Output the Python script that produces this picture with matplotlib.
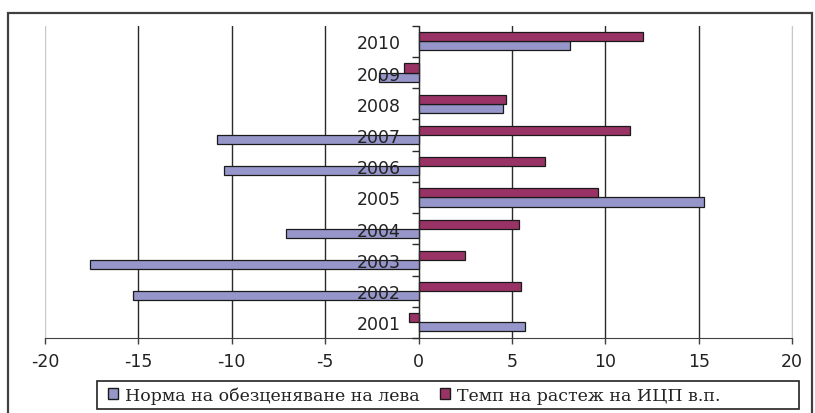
import matplotlib
matplotlib.use("Agg")
import matplotlib.pyplot as plt
from matplotlib.patches import Rectangle
import numpy as np

plt.rcParams['axes.unicode_minus'] = False

# данни по години
godini = ["2001", "2002", "2003", "2004", "2005", "2006", "2007", "2008", "2009", "2010"]
norma = [5.7, -15.3, -17.6, -7.1, 15.3, -10.4, -10.8, 4.5, -2.1, 8.1]
temp = [-0.5, 5.5, 2.5, 5.4, 9.6, 6.8, 11.3, 4.7, -0.8, 12.0]

ime_norma = "Норма на обезценяване на лева"
ime_temp = "Темп на растеж на ИЦП в.п."

fig = plt.figure(figsize=(8.15, 4.14), dpi=100)
ax = fig.add_axes([45 / 815, 1 - 339 / 414, 747 / 815, (339 - 26.7) / 414])

y = np.arange(len(godini))
h = 0.29
ax.barh(y - h / 2, norma, height=h, color="#9696CA", edgecolor="#1a1a1a", linewidth=0.9, label=ime_norma)
ax.barh(y + h / 2, temp, height=h, color="#993366", edgecolor="#1a1a1a", linewidth=0.9, label=ime_temp)

ax.set_xlim(-20, 20)
ax.set_ylim(-0.5, len(godini) - 0.5)
ax.set_xticks(np.arange(-20, 21, 5))

# вертикална мрежа зад стълбовете
ax.set_axisbelow(True)
ax.grid(axis="x", color="#2a2a2a", linewidth=1.0)
ax.grid(axis="y", visible=False)
grid = ax.get_xgridlines()
grid[0].set_color("#c8c8c8")
grid[-1].set_color("#c8c8c8")

# оста на категориите минава през нулата
ax.spines["left"].set_position(("data", 0))
ax.spines["left"].set_color("#2a2a2a")
ax.spines["top"].set_visible(False)
ax.spines["right"].set_color("#c8c8c8")
ax.spines["bottom"].set_color("#404040")

ax.set_yticks(np.arange(-0.5, len(godini), 1.0))
ax.set_yticklabels([])
ax.set_yticks(y, minor=True)
ax.set_yticklabels(godini, minor=True)
ax.tick_params(axis="y", which="major", direction="out", length=5, width=1, color="#2a2a2a")
ax.tick_params(axis="y", which="minor", length=0, pad=13, labelsize=12.5, labelcolor="#222222")
ax.yaxis.set_zorder(5)
ax.tick_params(axis="x", direction="out", length=4, width=1, color="#404040",
               labelsize=12.5, labelcolor="#222222", pad=6)

# легенда без собствена рамка, рамката е отделен правоъгълник
leg = fig.legend(loc="center left", bbox_to_anchor=(108 / 815, 18 / 414),
                 ncol=2, frameon=False,
                 prop={"family": "DejaVu Serif", "size": 12.5},
                 handlelength=0.6, handleheight=0.6, handletextpad=0.4,
                 borderaxespad=0, borderpad=0, columnspacing=1.15)
for t in leg.get_texts():
    t.set_color("#222222")
for p in leg.legend_handles:
    p.set_linewidth(1.0)

fig.patches.append(Rectangle((97 / 815, 4 / 414), 702 / 815, 28 / 414,
                             transform=fig.transFigure, fill=False,
                             edgecolor="#222222", linewidth=1.2))

# рамка около цялата диаграма
fig.patches.append(Rectangle((8 / 815, -0.05), 804 / 815, 1.05 - 14 / 414,
                             transform=fig.transFigure, fill=False,
                             edgecolor="#404040", linewidth=1.6))

fig.savefig("out.png", dpi=100)
